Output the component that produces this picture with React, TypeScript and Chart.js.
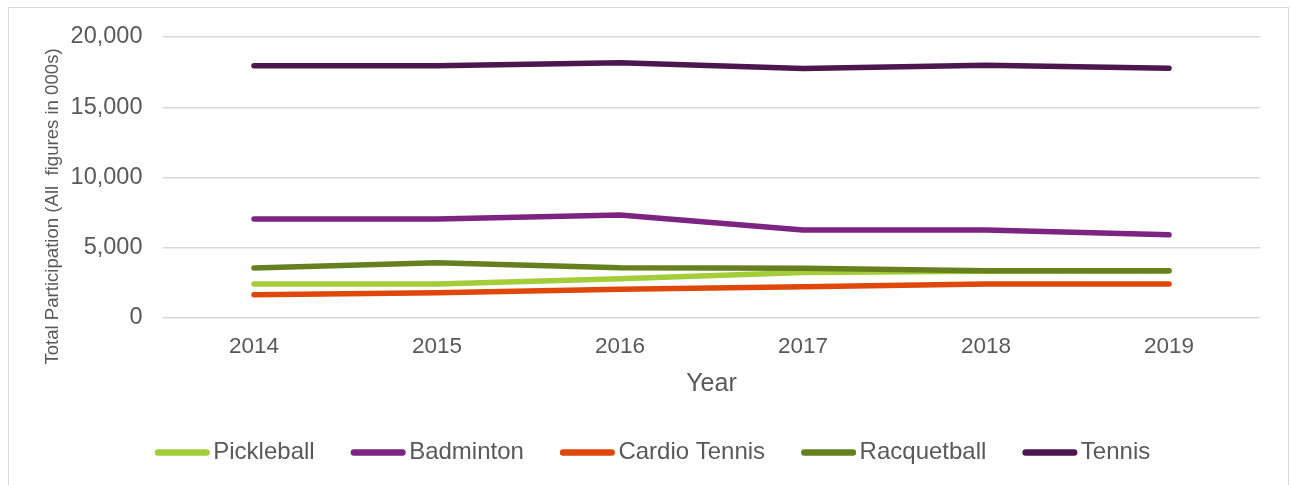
import React, { useEffect, useRef } from "react";
import { Chart, registerables } from "chart.js";

Chart.register(...registerables);

const years = ["2014", "2015", "2016", "2017", "2018", "2019"];
const seriesNames = ["Pickleball", "Badminton", "Cardio Tennis", "Racquetball", "Tennis"];
const pickleball = [2420, 2420, 2800, 3230, 3330, 3350];
const badminton = [7050, 7050, 7330, 6260, 6260, 5920];
const cardioTennis = [1660, 1800, 2050, 2230, 2420, 2420];
const racquetball = [3560, 3940, 3570, 3540, 3370, 3370];
const tennis = [17950, 17950, 18160, 17760, 17990, 17780];
const seriesColors = ["#A3CE39", "#7D2483", "#E0470A", "#66801F", "#4C174F"];
const yTitle = "Total Participation (All  figures in 000s)";
const xTitle = "Year";

const FONT = "'Liberation Sans', Arial, sans-serif";
const TEXT = "#595959";

const customPlugin = {
  id: "custom",
  afterDraw(chart: any) {
    const ctx = chart.ctx as CanvasRenderingContext2D;
    ctx.save();
    // y-axis title
    ctx.translate(53, 206.5);
    ctx.rotate(-Math.PI / 2);
    ctx.font = `18.6px ${FONT}`;
    ctx.fillStyle = TEXT;
    ctx.textAlign = "center";
    ctx.textBaseline = "middle";
    ctx.fillText(yTitle, 0, 0);
    ctx.restore();

    // legend
    ctx.save();
    ctx.font = `24px ${FONT}`;
    const sw = 55;
    const gapText = 3.5;
    const gapItem = 36;
    const widths = seriesNames.map((n) => ctx.measureText(n).width);
    const total =
      widths.reduce((a, b) => a + b, 0) + seriesNames.length * (sw + gapText) + (seriesNames.length - 1) * gapItem;
    let x = 652.5 - total / 2;
    const y = 452.5;
    seriesNames.forEach((name, i) => {
      ctx.strokeStyle = seriesColors[i];
      ctx.lineWidth = 6.5;
      ctx.lineCap = "round";
      ctx.beginPath();
      ctx.moveTo(x + 3.25, y);
      ctx.lineTo(x + sw - 3.25, y);
      ctx.stroke();
      ctx.fillStyle = TEXT;
      ctx.textAlign = "left";
      ctx.textBaseline = "middle";
      ctx.fillText(name, x + sw + gapText, y);
      x += sw + gapText + widths[i] + gapItem;
    });
    ctx.restore();
  },
};

export default function App() {
  const ref = useRef<HTMLCanvasElement>(null);
  useEffect(() => {
    if (!ref.current) return;
    const values = [pickleball, badminton, cardioTennis, racquetball, tennis];
    const chart = new Chart(ref.current, {
      type: "line",
      data: {
        labels: years,
        datasets: seriesNames.map((name, i) => ({
          label: name,
          data: values[i],
          borderColor: seriesColors[i],
          backgroundColor: seriesColors[i],
          borderWidth: 5.5,
          borderCapStyle: "round",
          borderJoinStyle: "round",
          pointRadius: 0,
          pointHoverRadius: 0,
          tension: 0,
          fill: false,
          order: seriesNames.length - i,
        })),
      },
      options: {
        animation: false,
        responsive: false,
        maintainAspectRatio: false,
        devicePixelRatio: 1,
        layout: { padding: { left: 0, right: 30.5, top: 37, bottom: 0 } },
        plugins: {
          legend: { display: false },
          tooltip: { enabled: false },
          title: { display: false },
        },
        scales: {
          x: {
            offset: true,
            grid: { display: false, drawTicks: false },
            border: { display: false },
            ticks: {
              color: TEXT,
              font: { family: FONT, size: 22.5 },
              padding: 15,
              maxRotation: 0,
            },
            title: {
              display: true,
              text: xTitle,
              color: TEXT,
              font: { family: FONT, size: 25 },
              padding: { top: 0, bottom: 86 },
            },
            afterFit(scale: any) {
              scale.height = 167;
            },
          },
          y: {
            min: 0,
            max: 20000,
            grid: { color: "#D9D9D9", lineWidth: 1.5, drawTicks: false },
            border: { display: false },
            ticks: {
              stepSize: 5000,
              color: TEXT,
              font: { family: FONT, size: 23.5 },
              padding: 20,
              callback: (v: any) => Number(v).toLocaleString("en-US"),
            },
            afterFit(scale: any) {
              scale.width = 162.5;
            },
          },
        },
      },
      plugins: [customPlugin],
    });
    return () => chart.destroy();
  }, []);

  return (
    <div style={{ position: "fixed", left: 0, top: 0, width: 1291, height: 485, overflow: "hidden", background: "#fff" }}>
      <div
        style={{
          position: "absolute",
          left: 8,
          top: 7,
          width: 1281,
          height: 520,
          boxSizing: "border-box",
          border: "1px solid #D9D9D9",
        }}
      />
      <canvas ref={ref} width={1291} height={485} style={{ position: "absolute", left: 0, top: 0, width: 1291, height: 485 }} />
    </div>
  );
}
